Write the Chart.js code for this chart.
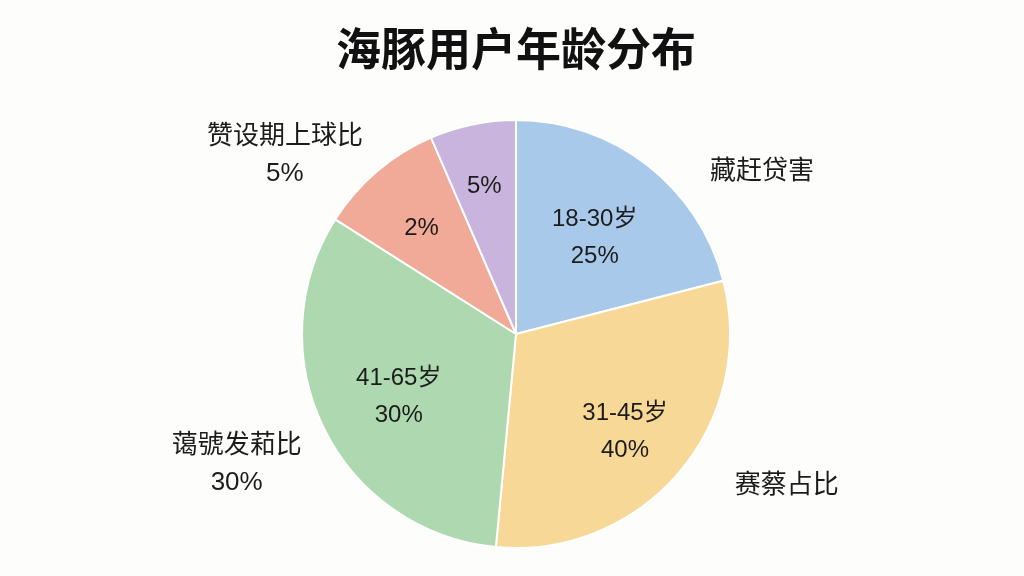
<!DOCTYPE html>
<html lang="zh">
<head>
  <meta charset="UTF-8" />
  <title>海豚用户年龄分布</title>
  <script src="https://cdn.jsdelivr.net/npm/chart.js"></script>
  <style>
    html, body {
      margin: 0;
      padding: 0;
      background: #fdfdfc;
    }
    .wrap {
      width: 1024px;
      height: 576px;
      position: relative;
    }
  </style>
</head>
<body>
  <div class="wrap">
    <canvas id="ageChart"></canvas>
  </div>

  <script>
    // data (slice shares as drawn, clockwise from 12 o'clock)
    const categories = ['18-30岁', '31-45岁', '41-65岁', '其他', '未知'];
    const sliceValues = [21, 30.5, 32.5, 9.5, 6.5];
    const innerLabels = ['18-30岁\n25%', '31-45岁\n40%', '41-65岁\n30%', '2%', '5%'];
    const outerLabels = ['藏赶贷害', '赛蔡占比', '蔼號发萂比\n30%', '赞设期上球比\n5%', ''];
    const sliceColors = ['#a9c9eb', '#f8d897', '#aed8af', '#f1a998', '#c9b4dd'];

    const FONT = "'Liberation Sans', 'Noto Sans CJK SC', sans-serif";

    const sliceText = {
      id: 'sliceText',
      afterDatasetsDraw(chart, args, opts) {
        const ctx = chart.ctx;
        const meta = chart.getDatasetMeta(0);
        ctx.save();
        ctx.fillStyle = '#1c1c1c';
        ctx.textAlign = 'center';
        ctx.textBaseline = 'middle';
        meta.data.forEach((arc, i) => {
          const p = arc.getProps(['x', 'y', 'startAngle', 'endAngle', 'outerRadius'], true);
          const mid = (p.startAngle + p.endAngle) / 2;
          // inside
          ctx.font = opts.innerSize + 'px ' + FONT;
          const ri = p.outerRadius * opts.innerR[i];
          drawLines(ctx, innerLabels[i], p.x + Math.cos(mid) * ri, p.y + Math.sin(mid) * ri + opts.dy, opts.lineGap);
          // outside
          if (outerLabels[i]) {
            ctx.font = opts.outerSize + 'px ' + FONT;
            const a = mid + opts.outerShift[i] * Math.PI / 180;
            const ro = p.outerRadius * opts.outerR[i];
            drawLines(ctx, outerLabels[i], p.x + Math.cos(a) * ro, p.y + Math.sin(a) * ro + opts.dy, opts.lineGap);
          }
        });
        ctx.restore();
      }
    };

    function drawLines(ctx, text, x, y, gap) {
      const lines = text.split('\n');
      const top = y - (lines.length - 1) * gap / 2;
      lines.forEach((t, k) => ctx.fillText(t, x, top + k * gap));
    }

    new Chart(document.getElementById('ageChart'), {
      type: 'pie',
      data: {
        labels: categories,
        datasets: [{
          data: sliceValues,
          backgroundColor: sliceColors,
          borderColor: '#ffffff',
          borderWidth: 2
        }]
      },
      options: {
        responsive: true,
        maintainAspectRatio: false,
        animation: false,
        layout: { padding: { left: 8, bottom: 27 } },
        plugins: {
          legend: { display: false },
          tooltip: { enabled: false },
          title: {
            display: true,
            text: '海豚用户年龄分布',
            color: '#111',
            font: { family: "'Noto Sans CJK SC', sans-serif", size: 45, weight: 'bold' },
            padding: { top: 22, bottom: 43 }
          },
          sliceText: {
            innerR: [0.6, 0.67, 0.61, 0.68, 0.73],
            outerR: [1.39, 1.44, 1.43, 1.38, 1.4],
            outerShift: [18, -12, 2, -11, 0],
            innerSize: 24,
            outerSize: 26,
            lineGap: 37,
            dy: 5
          }
        }
      },
      plugins: [sliceText]
    });
  </script>
</body>
</html>
